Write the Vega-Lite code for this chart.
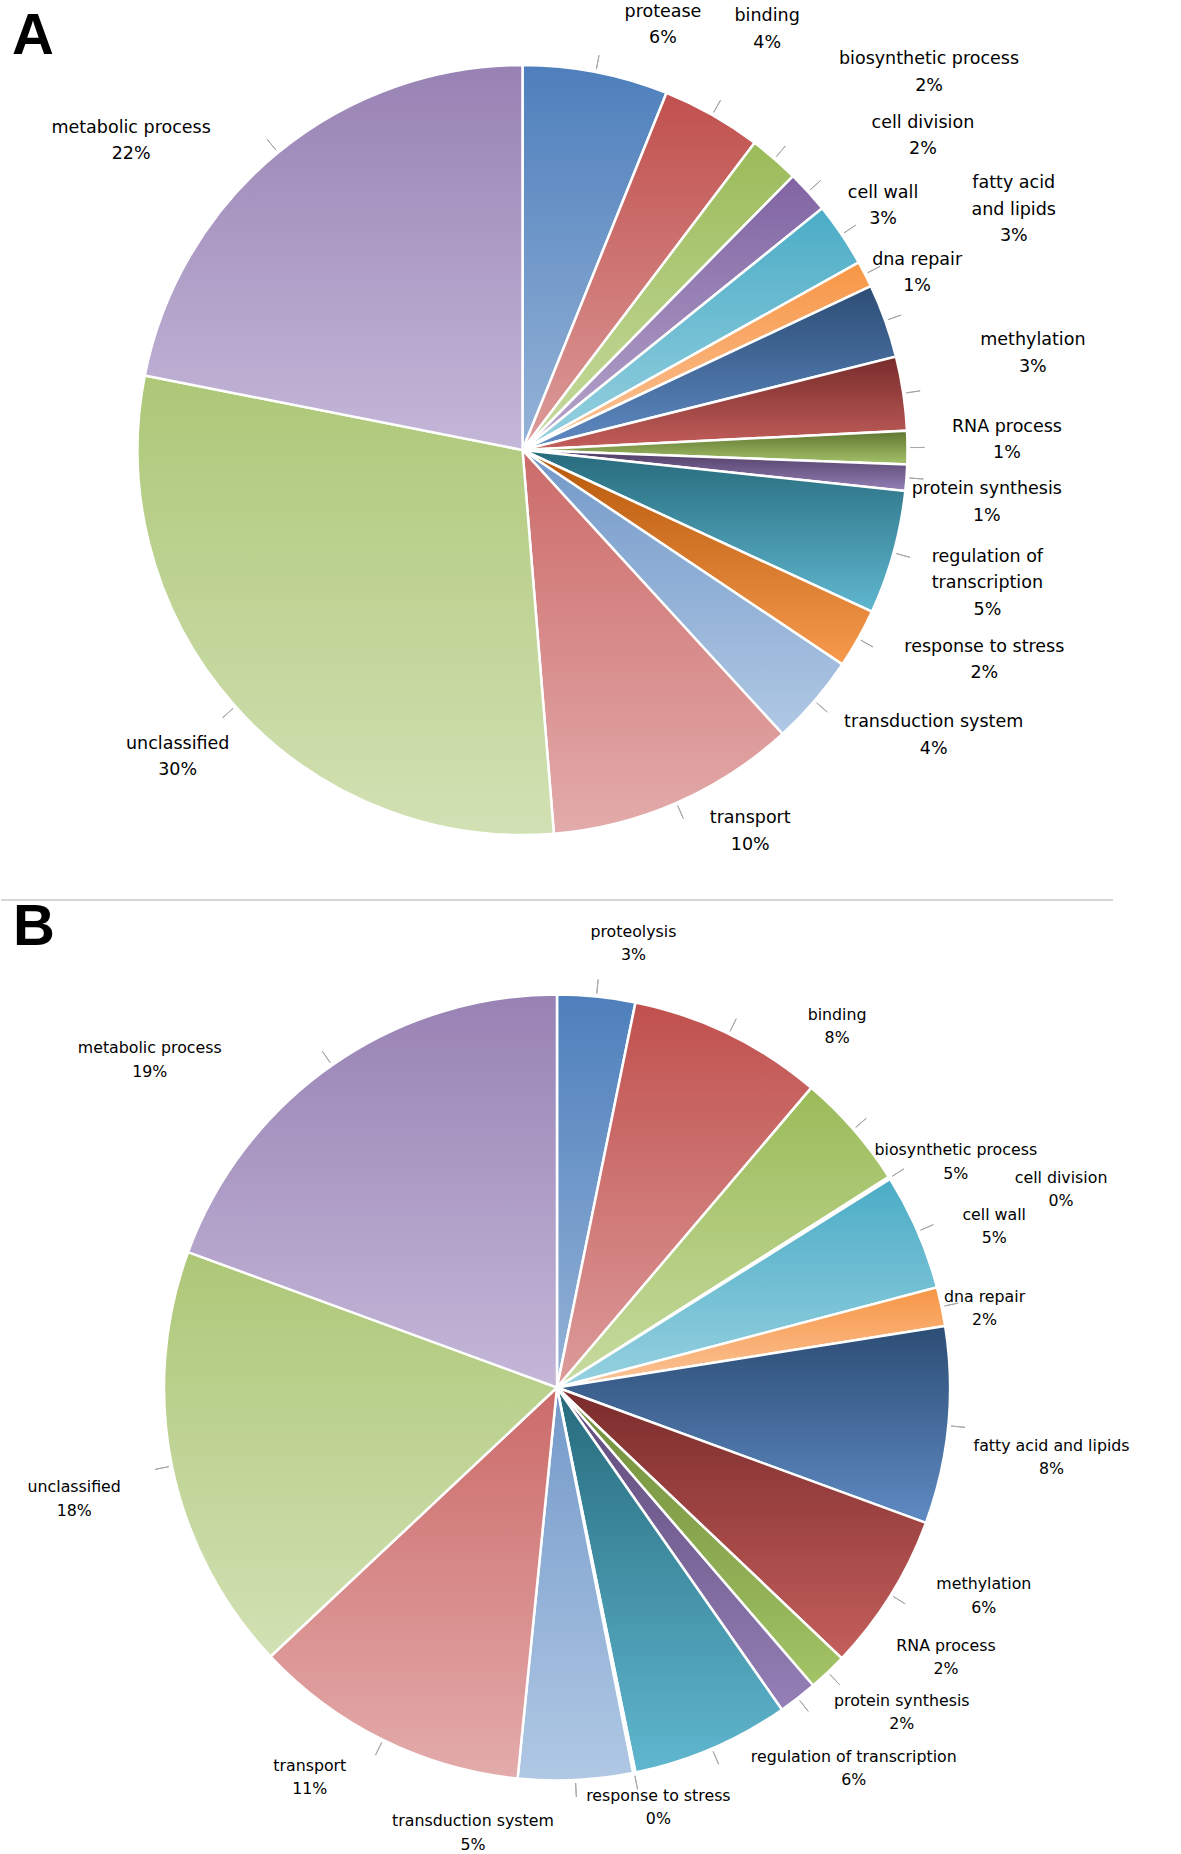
{
  "$schema": "https://vega.github.io/schema/vega-lite/v6.json",
  "padding": 0,
  "spacing": 0,
  "bounds": "flush",
  "background": "white",
  "config": {
    "view": {"stroke": null},
    "title": {"font": "Liberation Sans", "fontSize": 58, "fontWeight": "bold", "color": "#000000", "anchor": "start", "frame": "group", "baseline": "alphabetic"},
    "style": {
      "labA": {"font": "DejaVu Sans", "fontSize": 17.5, "fill": "#404040", "align": "center", "baseline": "middle", "lineBreak": "\n", "lineHeight": 26.5},
      "labB": {"font": "DejaVu Sans", "fontSize": 15.8, "fill": "#404040", "align": "center", "baseline": "middle", "lineBreak": "\n", "lineHeight": 23.3}
    }
  },
  "datasets": {
    "A": [
      {"i": 1, "name": "protease", "v": 6.1, "label": "protease\n6%"},
      {"i": 2, "name": "binding", "v": 4.2, "label": "binding\n4%"},
      {"i": 3, "name": "biosynthetic process", "v": 2.1, "label": "biosynthetic process\n2%"},
      {"i": 4, "name": "cell division", "v": 1.8, "label": "cell division\n2%"},
      {"i": 5, "name": "cell wall", "v": 2.7, "label": "cell wall\n3%"},
      {"i": 6, "name": "dna repair", "v": 1.1, "label": "dna repair\n1%"},
      {"i": 7, "name": "fatty acid and lipids", "v": 3.1, "label": "fatty acid\nand lipids\n3%"},
      {"i": 8, "name": "methylation", "v": 3.1, "label": "methylation\n3%"},
      {"i": 9, "name": "RNA process", "v": 1.4, "label": "RNA process\n1%"},
      {"i": 10, "name": "protein synthesis", "v": 1.1, "label": "protein synthesis\n1%"},
      {"i": 11, "name": "regulation of transcription", "v": 5.2, "label": "regulation of\ntranscription\n5%"},
      {"i": 12, "name": "response to stress", "v": 2.5, "label": "response to stress\n2%"},
      {"i": 13, "name": "transduction system", "v": 3.8, "label": "transduction system\n4%"},
      {"i": 14, "name": "transport", "v": 10.5, "label": "transport\n10%"},
      {"i": 15, "name": "unclassified", "v": 29.4, "label": "unclassified\n30%"},
      {"i": 16, "name": "metabolic process", "v": 21.9, "label": "metabolic process\n22%"}
    ],
    "B": [
      {"i": 1, "name": "proteolysis", "v": 3.2, "label": "proteolysis\n3%"},
      {"i": 2, "name": "binding", "v": 8.0, "label": "binding\n8%"},
      {"i": 3, "name": "biosynthetic process", "v": 4.8, "label": "biosynthetic process\n5%"},
      {"i": 4, "name": "cell division", "v": 0.1, "label": "cell division\n0%"},
      {"i": 5, "name": "cell wall", "v": 4.8, "label": "cell wall\n5%"},
      {"i": 6, "name": "dna repair", "v": 1.6, "label": "dna repair\n2%"},
      {"i": 7, "name": "fatty acid and lipids", "v": 8.1, "label": "fatty acid and lipids\n8%"},
      {"i": 8, "name": "methylation", "v": 6.5, "label": "methylation\n6%"},
      {"i": 9, "name": "RNA process", "v": 1.6, "label": "RNA process\n2%"},
      {"i": 10, "name": "protein synthesis", "v": 1.6, "label": "protein synthesis\n2%"},
      {"i": 11, "name": "regulation of transcription", "v": 6.5, "label": "regulation of transcription\n6%"},
      {"i": 12, "name": "response to stress", "v": 0.1, "label": "response to stress\n0%"},
      {"i": 13, "name": "transduction system", "v": 4.7, "label": "transduction system\n5%"},
      {"i": 14, "name": "transport", "v": 11.4, "label": "transport\n11%"},
      {"i": 15, "name": "unclassified", "v": 17.6, "label": "unclassified\n18%"},
      {"i": 16, "name": "metabolic process", "v": 19.4, "label": "metabolic process\n19%"}
    ]
  },
  "vconcat": [
    {
      "width": 1043,
      "height": 900,
      "title": {"text": "A", "offset": -66, "dx": 11},
      "data": {"name": "A"},
      "transform": [{"stack": "v", "groupby": [], "sort": [{"field": "i", "order": "ascending"}], "as": ["s0", "s1"]}],
      "encoding": {
        "theta": {"field": "s0", "type": "quantitative", "scale": {"domain": [0, 100]}}
      },
      "layer": [
        {
          "mark": {"type": "arc", "outerRadius": 385, "stroke": "#ffffff", "strokeWidth": 2.5},
          "encoding": {
            "theta2": {"field": "s1"},
            "fill": {
              "condition": [
                {"test": "datum.i==1", "value": {"gradient": "linear", "x1": 0, "y1": 0, "x2": 0, "y2": 1, "stops": [{"offset": 0, "color": "#4e7fbc"}, {"offset": 1, "color": "#95b3d7"}]}},
                {"test": "datum.i==2", "value": {"gradient": "linear", "x1": 0, "y1": 0, "x2": 0, "y2": 1, "stops": [{"offset": 0, "color": "#c0504d"}, {"offset": 1, "color": "#dc9c9b"}]}},
                {"test": "datum.i==3", "value": {"gradient": "linear", "x1": 0, "y1": 0, "x2": 0, "y2": 1, "stops": [{"offset": 0, "color": "#9bbb59"}, {"offset": 1, "color": "#c7dba0"}]}},
                {"test": "datum.i==4", "value": {"gradient": "linear", "x1": 0, "y1": 0, "x2": 0, "y2": 1, "stops": [{"offset": 0, "color": "#8064a2"}, {"offset": 1, "color": "#b6a6cc"}]}},
                {"test": "datum.i==5", "value": {"gradient": "linear", "x1": 0, "y1": 0, "x2": 0, "y2": 1, "stops": [{"offset": 0, "color": "#4bacc6"}, {"offset": 1, "color": "#97d1e0"}]}},
                {"test": "datum.i==6", "value": {"gradient": "linear", "x1": 0, "y1": 0, "x2": 0, "y2": 1, "stops": [{"offset": 0, "color": "#f79646"}, {"offset": 1, "color": "#fbc59a"}]}},
                {"test": "datum.i==7", "value": {"gradient": "linear", "x1": 0, "y1": 0, "x2": 0, "y2": 1, "stops": [{"offset": 0, "color": "#2c4d75"}, {"offset": 1, "color": "#5f8ac3"}]}},
                {"test": "datum.i==8", "value": {"gradient": "linear", "x1": 0, "y1": 0, "x2": 0, "y2": 1, "stops": [{"offset": 0, "color": "#772c2a"}, {"offset": 1, "color": "#c45f5c"}]}},
                {"test": "datum.i==9", "value": {"gradient": "linear", "x1": 0, "y1": 0, "x2": 0, "y2": 1, "stops": [{"offset": 0, "color": "#5f7530"}, {"offset": 1, "color": "#a5c26a"}]}},
                {"test": "datum.i==10", "value": {"gradient": "linear", "x1": 0, "y1": 0, "x2": 0, "y2": 1, "stops": [{"offset": 0, "color": "#4d3b62"}, {"offset": 1, "color": "#9480b6"}]}},
                {"test": "datum.i==11", "value": {"gradient": "linear", "x1": 0, "y1": 0, "x2": 0, "y2": 1, "stops": [{"offset": 0, "color": "#276a7c"}, {"offset": 1, "color": "#5fb7cf"}]}},
                {"test": "datum.i==12", "value": {"gradient": "linear", "x1": 0, "y1": 0, "x2": 0, "y2": 1, "stops": [{"offset": 0, "color": "#b65708"}, {"offset": 1, "color": "#f79a4e"}]}},
                {"test": "datum.i==13", "value": {"gradient": "linear", "x1": 0, "y1": 0, "x2": 0, "y2": 1, "stops": [{"offset": 0, "color": "#7399c9"}, {"offset": 1, "color": "#b0c8e4"}]}},
                {"test": "datum.i==14", "value": {"gradient": "linear", "x1": 0, "y1": 0, "x2": 0, "y2": 1, "stops": [{"offset": 0, "color": "#cb6b69"}, {"offset": 1, "color": "#e3abab"}]}},
                {"test": "datum.i==15", "value": {"gradient": "linear", "x1": 0, "y1": 0, "x2": 0, "y2": 1, "stops": [{"offset": 0, "color": "#adc777"}, {"offset": 1, "color": "#d2e1b4"}]}},
                {"test": "datum.i==16", "value": {"gradient": "linear", "x1": 0, "y1": 0, "x2": 0, "y2": 1, "stops": [{"offset": 0, "color": "#9882b4"}, {"offset": 1, "color": "#c4b7d8"}]}}
              ],
              "value": "#cccccc"
            }
          }
        },
        {"mark": {"type": "arc", "innerRadius": 388, "outerRadius": 402, "padAngle": 3, "filled": false, "color": "#a6a6a6", "strokeWidth": 1}, "encoding": {"theta2": {"field": "s1"}}},
        {"transform": [{"filter": "datum.i==1"}], "mark": {"type": "text", "style": "labA", "radius": 460, "thetaOffset": 0.3103}, "encoding": {"text": {"field": "label"}}},
        {"transform": [{"filter": "datum.i==2"}], "mark": {"type": "text", "style": "labA", "radius": 498, "thetaOffset": 0.1302}, "encoding": {"text": {"field": "label"}}},
        {"transform": [{"filter": "datum.i==3"}], "mark": {"type": "text", "style": "labA", "radius": 564, "thetaOffset": 0.1578}, "encoding": {"text": {"field": "label"}}},
        {"transform": [{"filter": "datum.i==4"}], "mark": {"type": "text", "style": "labA", "radius": 517, "thetaOffset": 0.1068}, "encoding": {"text": {"field": "label"}}},
        {"transform": [{"filter": "datum.i==5"}], "mark": {"type": "text", "style": "labA", "radius": 443, "thetaOffset": 0.0586}, "encoding": {"text": {"field": "label"}}},
        {"transform": [{"filter": "datum.i==6"}], "mark": {"type": "text", "style": "labA", "radius": 438, "thetaOffset": 0.06}, "encoding": {"text": {"field": "label"}}},
        {"transform": [{"filter": "datum.i==7"}], "mark": {"type": "text", "style": "labA", "radius": 559, "thetaOffset": -0.0576}, "encoding": {"text": {"field": "label"}}},
        {"transform": [{"filter": "datum.i==8"}], "mark": {"type": "text", "style": "labA", "radius": 522, "thetaOffset": 0.0335}, "encoding": {"text": {"field": "label"}}},
        {"transform": [{"filter": "datum.i==9"}], "mark": {"type": "text", "style": "labA", "radius": 485, "thetaOffset": 0.0023}, "encoding": {"text": {"field": "label"}}},
        {"transform": [{"filter": "datum.i==10"}], "mark": {"type": "text", "style": "labA", "radius": 466, "thetaOffset": 0.0469}, "encoding": {"text": {"field": "label"}}},
        {"transform": [{"filter": "datum.i==11"}], "mark": {"type": "text", "style": "labA", "radius": 477, "thetaOffset": 0.1192}, "encoding": {"text": {"field": "label"}}},
        {"transform": [{"filter": "datum.i==12"}], "mark": {"type": "text", "style": "labA", "radius": 502, "thetaOffset": -0.0309}, "encoding": {"text": {"field": "label"}}},
        {"transform": [{"filter": "datum.i==13"}], "mark": {"type": "text", "style": "labA", "radius": 493, "thetaOffset": -0.0061}, "encoding": {"text": {"field": "label"}}},
        {"transform": [{"filter": "datum.i==14"}], "mark": {"type": "text", "style": "labA", "radius": 433, "thetaOffset": 0.1876}, "encoding": {"text": {"field": "label"}}},
        {"transform": [{"filter": "datum.i==15"}], "mark": {"type": "text", "style": "labA", "radius": 453, "thetaOffset": 0.9468}, "encoding": {"text": {"field": "label"}}},
        {"transform": [{"filter": "datum.i==16"}], "mark": {"type": "text", "style": "labA", "radius": 507, "thetaOffset": 0.4941}, "encoding": {"text": {"field": "label"}}}
      ]
    },
    {
      "width": 1112,
      "height": 975,
      "title": {"text": "B", "offset": -58, "dx": 12},
      "layer": [
        {
          "data": {"values": [{"k": 1}]},
          "mark": {"type": "rule", "color": "#c8c8c8", "strokeWidth": 1.5},
          "encoding": {"y": {"value": 0}}
        },
        {
          "data": {"name": "B"},
          "transform": [{"stack": "v", "groupby": [], "sort": [{"field": "i", "order": "ascending"}], "as": ["s0", "s1"]}],
          "encoding": {
            "theta": {"field": "s0", "type": "quantitative", "scale": {"domain": [0, 100]}}
          },
          "layer": [
            {
              "mark": {"type": "arc", "outerRadius": 393, "stroke": "#ffffff", "strokeWidth": 2.5},
              "encoding": {
                "theta2": {"field": "s1"},
                "fill": {
                  "condition": [
                    {"test": "datum.i==1", "value": {"gradient": "linear", "x1": 0, "y1": 0, "x2": 0, "y2": 1, "stops": [{"offset": 0, "color": "#4e7fbc"}, {"offset": 1, "color": "#95b3d7"}]}},
                    {"test": "datum.i==2", "value": {"gradient": "linear", "x1": 0, "y1": 0, "x2": 0, "y2": 1, "stops": [{"offset": 0, "color": "#c0504d"}, {"offset": 1, "color": "#dc9c9b"}]}},
                    {"test": "datum.i==3", "value": {"gradient": "linear", "x1": 0, "y1": 0, "x2": 0, "y2": 1, "stops": [{"offset": 0, "color": "#9bbb59"}, {"offset": 1, "color": "#c7dba0"}]}},
                    {"test": "datum.i==4", "value": {"gradient": "linear", "x1": 0, "y1": 0, "x2": 0, "y2": 1, "stops": [{"offset": 0, "color": "#8064a2"}, {"offset": 1, "color": "#b6a6cc"}]}},
                    {"test": "datum.i==5", "value": {"gradient": "linear", "x1": 0, "y1": 0, "x2": 0, "y2": 1, "stops": [{"offset": 0, "color": "#4bacc6"}, {"offset": 1, "color": "#97d1e0"}]}},
                    {"test": "datum.i==6", "value": {"gradient": "linear", "x1": 0, "y1": 0, "x2": 0, "y2": 1, "stops": [{"offset": 0, "color": "#f79646"}, {"offset": 1, "color": "#fbc59a"}]}},
                    {"test": "datum.i==7", "value": {"gradient": "linear", "x1": 0, "y1": 0, "x2": 0, "y2": 1, "stops": [{"offset": 0, "color": "#2c4d75"}, {"offset": 1, "color": "#5f8ac3"}]}},
                    {"test": "datum.i==8", "value": {"gradient": "linear", "x1": 0, "y1": 0, "x2": 0, "y2": 1, "stops": [{"offset": 0, "color": "#7a2b2b"}, {"offset": 1, "color": "#c45f5c"}]}},
                    {"test": "datum.i==9", "value": {"gradient": "linear", "x1": 0, "y1": 0, "x2": 0, "y2": 1, "stops": [{"offset": 0, "color": "#6f8a38"}, {"offset": 1, "color": "#a3c466"}]}},
                    {"test": "datum.i==10", "value": {"gradient": "linear", "x1": 0, "y1": 0, "x2": 0, "y2": 1, "stops": [{"offset": 0, "color": "#5f497a"}, {"offset": 1, "color": "#9480b6"}]}},
                    {"test": "datum.i==11", "value": {"gradient": "linear", "x1": 0, "y1": 0, "x2": 0, "y2": 1, "stops": [{"offset": 0, "color": "#276a7c"}, {"offset": 1, "color": "#5fb7cf"}]}},
                    {"test": "datum.i==12", "value": {"gradient": "linear", "x1": 0, "y1": 0, "x2": 0, "y2": 1, "stops": [{"offset": 0, "color": "#b65708"}, {"offset": 1, "color": "#f79a4e"}]}},
                    {"test": "datum.i==13", "value": {"gradient": "linear", "x1": 0, "y1": 0, "x2": 0, "y2": 1, "stops": [{"offset": 0, "color": "#7399c9"}, {"offset": 1, "color": "#b0c8e4"}]}},
                    {"test": "datum.i==14", "value": {"gradient": "linear", "x1": 0, "y1": 0, "x2": 0, "y2": 1, "stops": [{"offset": 0, "color": "#cb6b69"}, {"offset": 1, "color": "#e3abab"}]}},
                    {"test": "datum.i==15", "value": {"gradient": "linear", "x1": 0, "y1": 0, "x2": 0, "y2": 1, "stops": [{"offset": 0, "color": "#adc777"}, {"offset": 1, "color": "#d2e1b4"}]}},
                    {"test": "datum.i==16", "value": {"gradient": "linear", "x1": 0, "y1": 0, "x2": 0, "y2": 1, "stops": [{"offset": 0, "color": "#9882b4"}, {"offset": 1, "color": "#c4b7d8"}]}}
                  ],
                  "value": "#cccccc"
                }
              }
            },
            {"mark": {"type": "arc", "innerRadius": 396, "outerRadius": 410, "padAngle": 3, "filled": false, "color": "#a6a6a6", "strokeWidth": 1}, "encoding": {"theta2": {"field": "s1"}}},
            {"transform": [{"filter": "datum.i==1"}], "mark": {"type": "text", "style": "labB", "radius": 462, "thetaOffset": 0.1662}, "encoding": {"text": {"field": "label"}}},
            {"transform": [{"filter": "datum.i==2"}], "mark": {"type": "text", "style": "labB", "radius": 466, "thetaOffset": 0.4438}, "encoding": {"text": {"field": "label"}}},
            {"transform": [{"filter": "datum.i==3"}], "mark": {"type": "text", "style": "labB", "radius": 464, "thetaOffset": 0.3307}, "encoding": {"text": {"field": "label"}}},
            {"transform": [{"filter": "datum.i==4"}], "mark": {"type": "text", "style": "labB", "radius": 546, "thetaOffset": 0.171}, "encoding": {"text": {"field": "label"}}},
            {"transform": [{"filter": "datum.i==5"}], "mark": {"type": "text", "style": "labB", "radius": 470, "thetaOffset": 0.1833}, "encoding": {"text": {"field": "label"}}},
            {"transform": [{"filter": "datum.i==6"}], "mark": {"type": "text", "style": "labB", "radius": 437, "thetaOffset": 0.0489}, "encoding": {"text": {"field": "label"}}},
            {"transform": [{"filter": "datum.i==7"}], "mark": {"type": "text", "style": "labB", "radius": 498, "thetaOffset": 0.2744}, "encoding": {"text": {"field": "label"}}},
            {"transform": [{"filter": "datum.i==8"}], "mark": {"type": "text", "style": "labB", "radius": 470, "thetaOffset": 0.0801}, "encoding": {"text": {"field": "label"}}},
            {"transform": [{"filter": "datum.i==9"}], "mark": {"type": "text", "style": "labB", "radius": 467, "thetaOffset": -0.174}, "encoding": {"text": {"field": "label"}}},
            {"transform": [{"filter": "datum.i==10"}], "mark": {"type": "text", "style": "labB", "radius": 466, "thetaOffset": -0.1227}, "encoding": {"text": {"field": "label"}}},
            {"transform": [{"filter": "datum.i==11"}], "mark": {"type": "text", "style": "labB", "radius": 474, "thetaOffset": -0.067}, "encoding": {"text": {"field": "label"}}},
            {"transform": [{"filter": "datum.i==12"}], "mark": {"type": "text", "style": "labB", "radius": 421, "thetaOffset": -0.0422}, "encoding": {"text": {"field": "label"}}},
            {"transform": [{"filter": "datum.i==13"}], "mark": {"type": "text", "style": "labB", "radius": 442, "thetaOffset": 0.3861}, "encoding": {"text": {"field": "label"}}},
            {"transform": [{"filter": "datum.i==14"}], "mark": {"type": "text", "style": "labB", "radius": 452, "thetaOffset": 0.4782}, "encoding": {"text": {"field": "label"}}},
            {"transform": [{"filter": "datum.i==15"}], "mark": {"type": "text", "style": "labB", "radius": 493, "thetaOffset": 0.5503}, "encoding": {"text": {"field": "label"}}},
            {"transform": [{"filter": "datum.i==16"}], "mark": {"type": "text", "style": "labB", "radius": 530, "thetaOffset": 0.3426}, "encoding": {"text": {"field": "label"}}}
          ]
        }
      ]
    }
  ]
}
